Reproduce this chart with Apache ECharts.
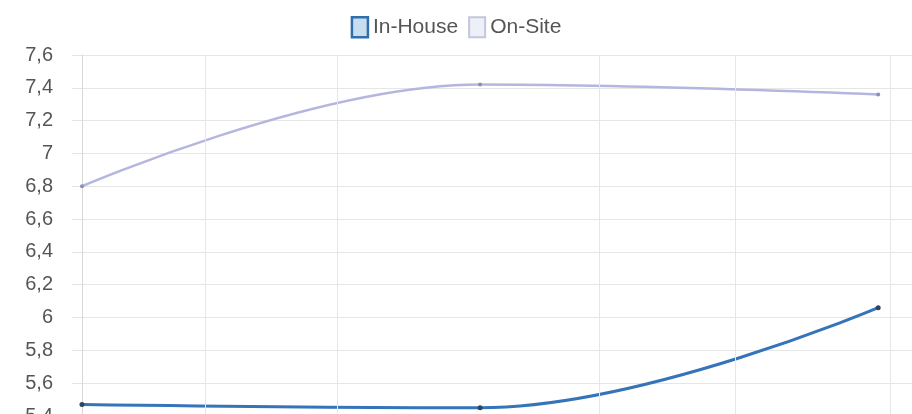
<!DOCTYPE html>
<html>
<head>
<meta charset="utf-8">
<script src="https://cdn.jsdelivr.net/npm/echarts@6/dist/echarts.min.js"></script>
<style>
  html, body { margin: 0; padding: 0; background: #fff; }
  #chart { width: 912px; height: 414px; }
</style>
</head>
<body>
<div id="chart"></div>
<script>
// data
var seriesNames = ['In-House', 'On-Site'];
var xPos = [0, 1, 2];
var inHouse = [5.47, 5.45, 6.06];
var onSite = [6.80, 7.42, 7.36];
// vertical grid line positions (x units)
var gridX = [0.31, 0.635, 1.3, 1.64, 2.03];

var chartDom = document.getElementById('chart');
var myChart = echarts.init(chartDom);
var option;

function pairs(ys) {
  return xPos.map(function (x, i) { return [x, ys[i]]; });
}

option = {
  backgroundColor: '#fff',
  animation: false,
  textStyle: { fontFamily: 'Liberation Sans, Arial, sans-serif' },
  legend: {
    top: 11,
    left: 'center',
    itemWidth: 16,
    itemHeight: 20,
    itemGap: 10,
    textStyle: { fontSize: 21, color: '#555' },
    data: [
      { name: 'In-House', icon: 'rect',
        itemStyle: { color: '#c9ddf0', borderColor: '#2f6fab', borderWidth: 2.5 } },
      { name: 'On-Site', icon: 'rect',
        itemStyle: { color: '#eef0f7', borderColor: '#c4c6dd', borderWidth: 2 } }
    ]
  },
  grid: {
    left: 73, right: 0, top: 55, height: 361,
    containLabel: false,
    outerBoundsMode: 'none'
  },
  xAxis: {
    type: 'value',
    min: -0.0226,
    max: 2.085,
    axisLine: { show: false },
    axisTick: { show: false },
    axisLabel: { show: false },
    splitLine: { show: false }
  },
  yAxis: {
    type: 'value',
    min: 5.4,
    max: 7.6,
    interval: 0.2,
    axisLine: { show: true, lineStyle: { color: '#d8d8d8' } },
    axisTick: { show: true, length: 10, lineStyle: { color: '#e4e4e4' } },
    axisLabel: {
      fontSize: 20,
      color: '#555',
      margin: 20,
      formatter: function (v) { return String(+v.toFixed(1)).replace('.', ','); }
    },
    splitLine: { lineStyle: { color: '#e6e6e6' } }
  },
  series: [
    {
      name: seriesNames[0],
      type: 'line',
      smooth: 0.4,
      data: pairs(inHouse),
      symbol: 'circle',
      symbolSize: 5,
      lineStyle: { color: '#3574b8', width: 3 },
      itemStyle: { color: '#2d4560' },
      markLine: {
        silent: true,
        symbol: 'none',
        label: { show: false },
        lineStyle: { color: '#e6e6e6', type: 'solid', width: 1 },
        data: gridX.map(function (v) { return { xAxis: v }; })
      },
      z: 3
    },
    {
      name: seriesNames[1],
      type: 'line',
      smooth: 0.4,
      data: pairs(onSite),
      symbol: 'circle',
      symbolSize: 4,
      lineStyle: { color: '#b5b6df', width: 2.5 },
      itemStyle: { color: '#8c8fb8' },
      z: 2
    }
  ]
};

option && myChart.setOption(option);
</script>
</body>
</html>
